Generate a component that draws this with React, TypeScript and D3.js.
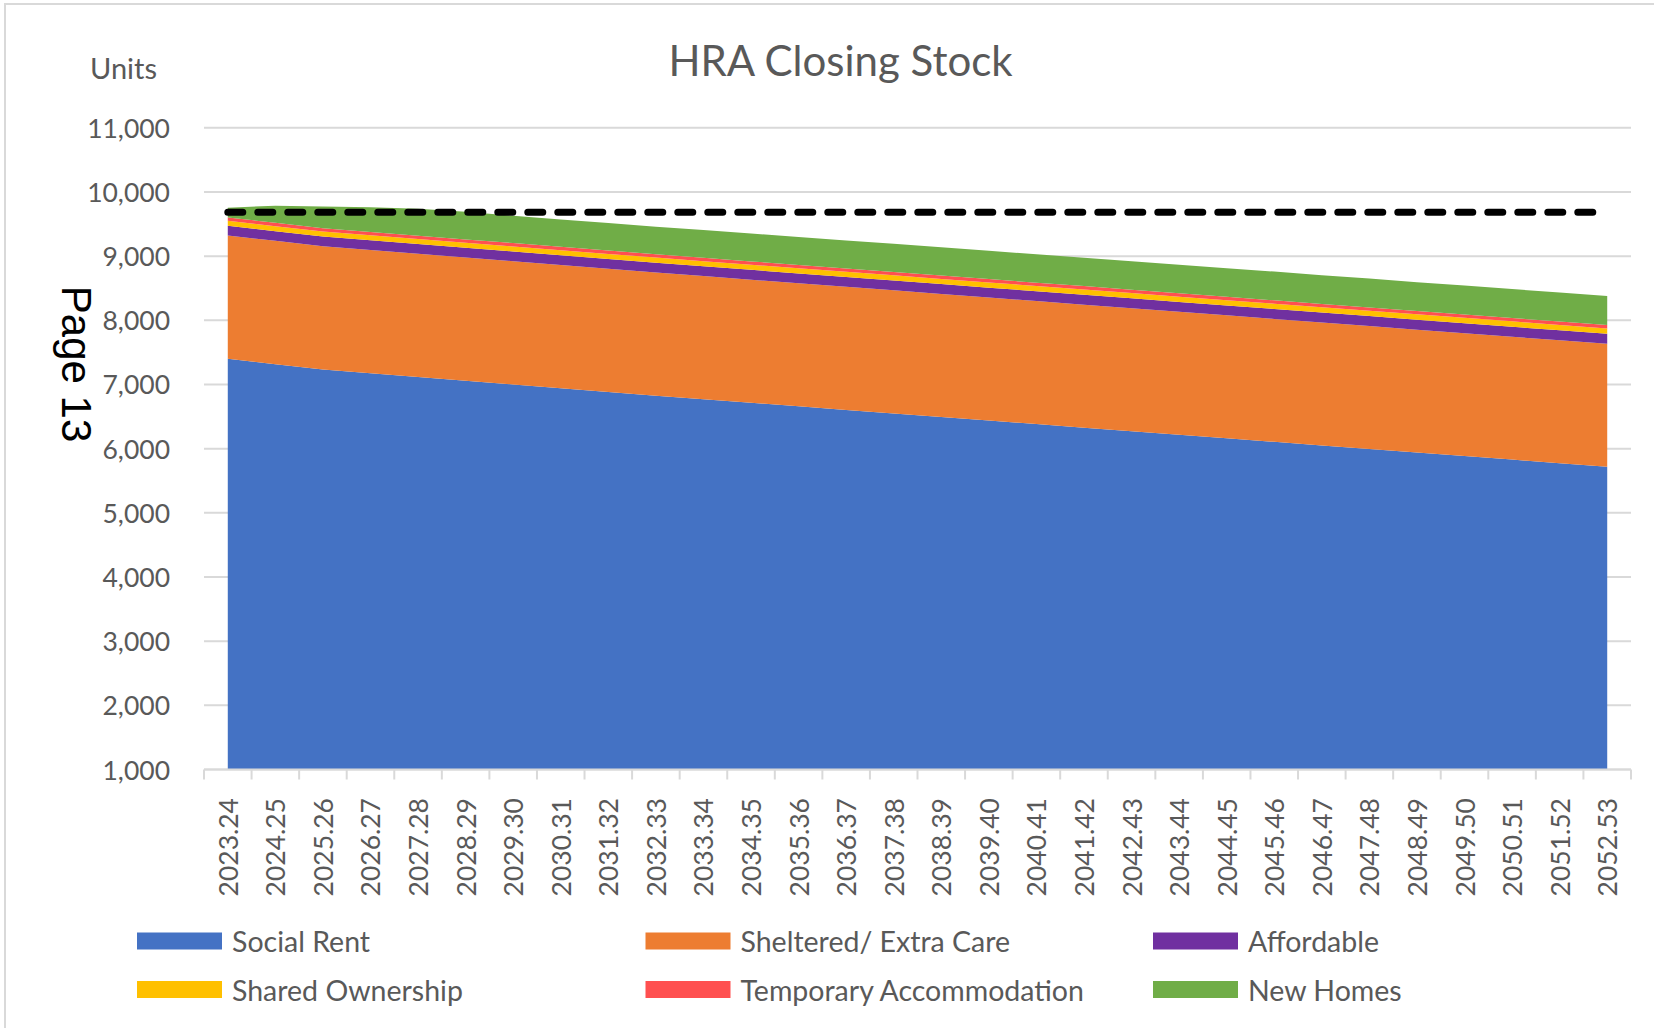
import React from 'react';
import * as d3 from 'd3';

// financial years on the category axis
const years = [
  '2023.24', '2024.25', '2025.26', '2026.27', '2027.28', '2028.29', '2029.30', '2030.31',
  '2031.32', '2032.33', '2033.34', '2034.35', '2035.36', '2036.37', '2037.38', '2038.39',
  '2039.40', '2040.41', '2041.42', '2042.43', '2043.44', '2044.45', '2045.46', '2046.47',
  '2047.48', '2048.49', '2049.50', '2050.51', '2051.52', '2052.53',
];

// closing stock by tenure (units)
const socialRent = [
  7400, 7316, 7232, 7174, 7116, 7058, 7000, 6942, 6884, 6826,
  6770, 6715, 6660, 6604, 6549, 6493, 6438, 6383, 6327, 6272,
  6216, 6161, 6106, 6050, 5995, 5939, 5884, 5829, 5773, 5718,
];
const shelteredExtraCare = [
  1923, 1922, 1922, 1921, 1921, 1920, 1920, 1920, 1919, 1919,
  1919, 1918, 1918, 1918, 1918, 1917, 1917, 1917, 1917, 1916,
  1916, 1916, 1916, 1916, 1915, 1915, 1915, 1915, 1915, 1915,
];
const affordable = [
  151, 151, 151, 152, 152, 152, 152, 152, 153, 153,
  153, 153, 153, 154, 154, 154, 154, 154, 155, 155,
  155, 155, 155, 155, 156, 156, 156, 156, 156, 156,
];
const sharedOwnership = [
  78, 78, 78, 78, 78, 79, 79, 79, 79, 79,
  80, 80, 80, 80, 81, 81, 81, 81, 82, 82,
  82, 82, 83, 83, 83, 83, 84, 84, 84, 85,
];
const temporaryAccommodation = [
  52, 52, 52, 52, 52, 52, 52, 52, 52, 52,
  52, 52, 52, 52, 52, 52, 52, 52, 52, 52,
  52, 52, 52, 52, 52, 52, 52, 52, 52, 52,
];
const newHomes = [
  150, 268, 340, 385, 420, 432, 425, 425, 428, 430,
  432, 434, 436, 437, 438, 440, 441, 442, 443, 444,
  445, 446, 447, 448, 449, 450, 451, 452, 453, 454,
];

const targetStock = 9685;
const yTicks = [1000, 2000, 3000, 4000, 5000, 6000, 7000, 8000, 9000, 10000, 11000];

const seriesKeys = ['social', 'sheltered', 'affordable', 'shared', 'temporary', 'newHomes'];
const seriesLabels = [
  'Social Rent', 'Sheltered/ Extra Care', 'Affordable',
  'Shared Ownership', 'Temporary Accommodation', 'New Homes',
];
const seriesColors = ['#4472C4', '#ED7D31', '#7030A0', '#FFC000', '#FF5050', '#70AD47'];

const W = 1654;
const H = 1028;
const plot = { left: 204, right: 1631, top: 127.8, bottom: 769.5 };
const textColor = '#595959';
const gridColor = '#D9D9D9';
const font = 'Lato, "Open Sans", sans-serif';

const rows = years.map((yr, i) => ({
  year: yr,
  social: socialRent[i],
  sheltered: shelteredExtraCare[i],
  affordable: affordable[i],
  shared: sharedOwnership[i],
  temporary: temporaryAccommodation[i],
  newHomes: newHomes[i],
}));

export default function App() {
  const x = d3.scaleBand().domain(years).range([plot.left, plot.right]);
  const cx = (yr: string) => (x(yr) as number) + x.bandwidth() / 2;
  const y = d3.scaleLinear().domain([1000, 11000]).range([plot.bottom, plot.top]);

  const stacked = d3.stack<any>().keys(seriesKeys)(rows);
  const area = d3.area<any>()
    .x(d => cx(d.data.year))
    .y0(d => y(Math.max(d[0], 1000)))
    .y1(d => y(d[1]));

  const tickEdges = years.map(yr => x(yr) as number).concat([plot.right]);

  // legend layout: 3 columns x 2 rows
  const legendCols = [137, 645.5, 1153];
  const legendRows = [941, 989.5];

  return (
    <div style={{ position: 'absolute', left: 0, top: 0 }}>
      <svg width={W} height={H} style={{ display: 'block', background: '#fff' }}>
        <rect x={5} y={4} width={W + 10} height={H + 10} fill="#fff" stroke={gridColor} strokeWidth={2} />

        <text x={840.5} y={60} textAnchor="middle" dominantBaseline="central"
          fontFamily={font} fontSize={42} fill={textColor}>HRA Closing Stock</text>
        <text x={90} y={67.5} dominantBaseline="central"
          fontFamily={font} fontSize={29} fill={textColor}>Units</text>

        {/* gridlines */}
        {yTicks.map(t => (
          <line key={t} x1={plot.left} x2={plot.right} y1={y(t)} y2={y(t)}
            stroke={gridColor} strokeWidth={2} />
        ))}

        {/* stacked areas */}
        {stacked.map((s, i) => (
          <path key={s.key} d={area(s) as string} fill={seriesColors[i]} />
        ))}

        {/* target dashed line */}
        <path
          d={d3.line<string>().x(yr => cx(yr)).y(() => y(targetStock))([years[0], years[years.length - 1]]) as string}
          fill="none" stroke="#000" strokeWidth={7} strokeDasharray="15,15" strokeLinecap="round" />

        {/* x axis */}
        <line x1={plot.left} x2={plot.right} y1={plot.bottom} y2={plot.bottom} stroke={gridColor} strokeWidth={2} />
        {tickEdges.map((tx, i) => (
          <line key={i} x1={tx} x2={tx} y1={plot.bottom} y2={plot.bottom + 10} stroke={gridColor} strokeWidth={2} />
        ))}
        {years.map(yr => (
          <text key={yr} transform={`translate(${cx(yr)},798) rotate(-90)`} textAnchor="end"
            dominantBaseline="central" fontFamily={font} fontSize={26.5} fill={textColor}>{yr}</text>
        ))}

        {/* y axis labels */}
        {yTicks.map(t => (
          <text key={t} x={170} y={y(t)} textAnchor="end" dominantBaseline="central"
            fontFamily={font} fontSize={26.5} fill={textColor}>{d3.format(',')(t)}</text>
        ))}

        {/* legend */}
        {seriesLabels.map((lab, i) => {
          const lx = legendCols[i % 3];
          const ly = legendRows[Math.floor(i / 3)];
          return (
            <g key={lab}>
              <rect x={lx} y={ly - 8.5} width={85} height={17} fill={seriesColors[i]} />
              <text x={lx + 95} y={ly} dominantBaseline="central" fontFamily={font}
                fontSize={28.5} fill={textColor}>{lab}</text>
            </g>
          );
        })}

        {/* page number from the source document */}
        <text transform="translate(62,364) rotate(90)" textAnchor="middle"
          fontFamily='"Liberation Sans", Arial, sans-serif' fontSize={42} fill="#000">Page 13</text>
      </svg>
    </div>
  );
}
